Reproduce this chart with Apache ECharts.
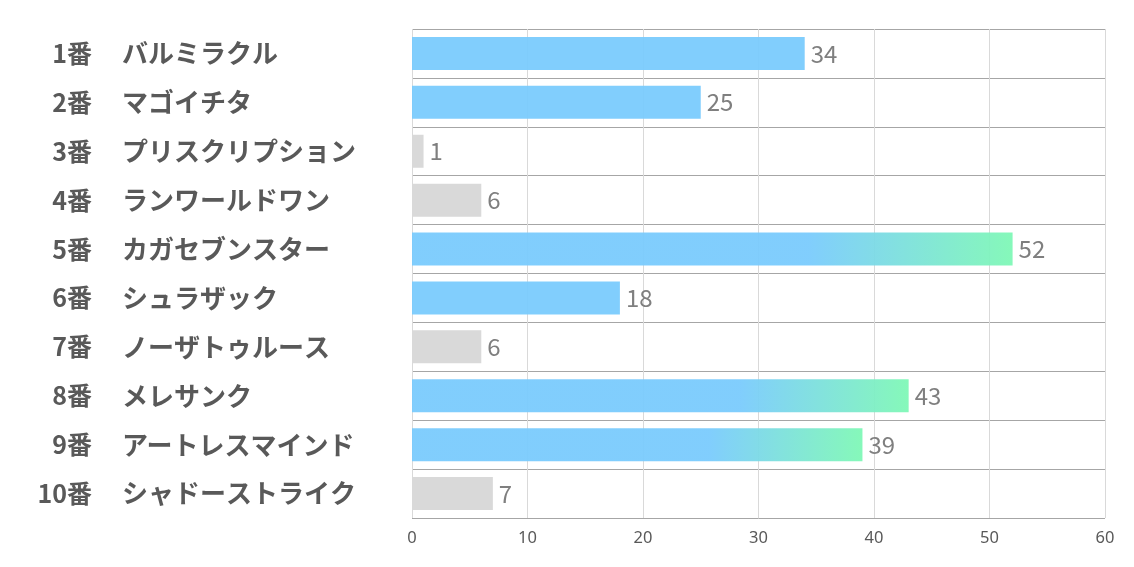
<!DOCTYPE html>
<html><head><meta charset="utf-8">
<script src="https://cdn.jsdelivr.net/npm/echarts@6/dist/echarts.min.js"></script>
<style>html,body{margin:0;padding:0;background:#fff}#c{width:1134px;height:567px}</style>
</head><body><div id="c"></div>
<script>
const numbers = ['1番','2番','3番','4番','5番','6番','7番','8番','9番','10番'];
const names = ['バルミラクル','マゴイチタ','プリスクリプション','ランワールドワン','カガセブンスター','シュラザック','ノーザトゥルース','メレサンク','アートレスマインド','シャドーストライク'];
const values = [34, 25, 1, 6, 52, 18, 6, 43, 39, 7];
const kinds = ['blue','blue','gray','gray','grad','blue','gray','grad','grad','gray'];
const xTicks = [0, 10, 20, 30, 40, 50, 60];

const BLUE = 'rgba(122,203,253,0.95)';
const GRAY = 'rgba(217,217,217,1)';
function colorFor(k){
  if (k === 'blue') return BLUE;
  if (k === 'gray') return GRAY;
  return new echarts.graphic.LinearGradient(0,0,1,0,[
    {offset:0, color:BLUE},{offset:0.66, color:BLUE},{offset:1, color:'rgba(127,248,182,0.95)'}
  ]);
}
const FONT = '"Noto Sans CJK JP", sans-serif';
const chart = echarts.init(document.getElementById('c'));
chart.setOption({
  animation:false,
  grid:{left:412, right:29, top:29, bottom:49},
  xAxis:{type:'value', min:xTicks[0], max:xTicks[xTicks.length-1], interval:10,
    axisLine:{show:false}, axisTick:{show:false},
    splitLine:{lineStyle:{color:'#d9d9d9', width:1}},
    axisLabel:{color:'#595959', fontSize:16.5, margin:12, fontFamily:'"Noto Sans", sans-serif'}},
  yAxis:[
    {type:'category', inverse:true, data:numbers, position:'left',
      axisLine:{show:false}, axisTick:{show:false},
      splitLine:{show:true, lineStyle:{color:'#a6a6a6', width:1}},
      axisLabel:{align:'right', margin:320, fontSize:25, fontWeight:'bold', color:'#595959', fontFamily:FONT}},
    {type:'category', inverse:true, data:names, position:'left',
      axisLine:{show:false}, axisTick:{show:false}, splitLine:{show:false},
      axisLabel:{align:'left', margin:290, fontSize:26, fontWeight:'bold', color:'#595959', fontFamily:FONT}}
  ],
  series:[{type:'bar', barWidth:33, yAxisIndex:0,
    data:values.map((v,i)=>({value:v, itemStyle:{color:colorFor(kinds[i])}})),
    label:{show:true, position:'right', distance:6, color:'#7f7f7f', fontSize:24, fontFamily:FONT}
  }]
});
</script></body></html>
